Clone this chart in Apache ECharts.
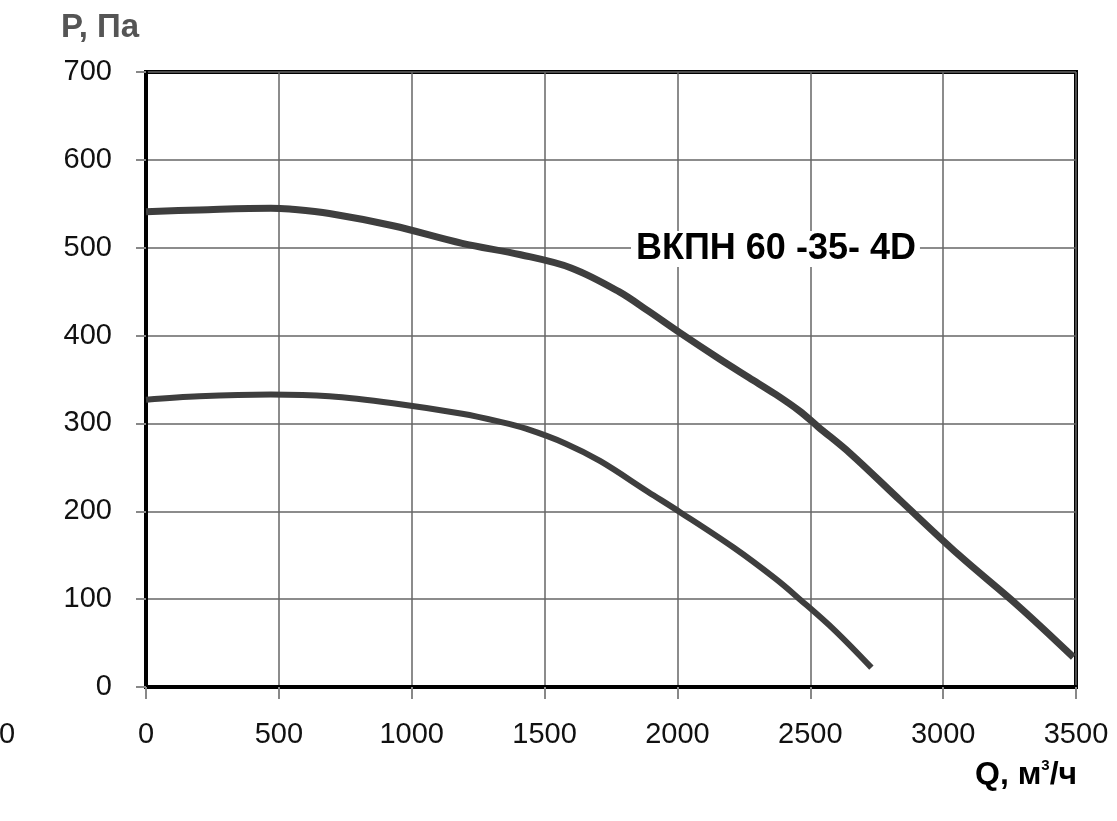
<!DOCTYPE html>
<html>
<head>
<meta charset="utf-8">
<script src="https://cdn.jsdelivr.net/npm/echarts@6/dist/echarts.min.js"></script>
<style>
html,body{margin:0;padding:0;background:#fff;}
#chart{width:1117px;height:821px;}
</style>
</head>
<body>
<div id="chart"></div>
<script>
// Q values (м³/ч) and P values (Па)
var upperQ = [0, 200, 470, 540, 690, 930, 1190, 1410, 1600, 1780, 1890, 2010, 2160, 2270, 2370, 2460, 2530, 2650, 2840, 3060, 3280, 3490];
var upperP = [541, 543, 545, 544, 539, 525, 505, 492, 477, 450, 428, 403, 373, 352, 333, 314, 296, 266, 212, 150, 93, 34];
var lowerQ = [0, 200, 470, 690, 930, 1190, 1330, 1430, 1580, 1710, 1890, 2010, 2210, 2370, 2460, 2590, 2730];
var lowerP = [327, 331, 333, 331, 323, 311, 302, 294, 277, 257, 222, 199, 159, 123, 100, 65, 22];
var curveLabel = 'ВКПН 60 -35- 4D';
var yTitle = 'P, Па';

function pairs(xs, ys){ return xs.map(function(x,i){ return [x, ys[i]]; }); }

var FF = 'Liberation Sans, Arial, sans-serif';
var chart = echarts.init(document.getElementById('chart'));
var labelFont = {fontFamily:FF, fontSize:29, color:'#111', formatter:function(v){ return String(v); }};
chart.setOption({
  backgroundColor:'#fff',
  animation:false,
  grid:{left:146, top:72, right:41, bottom:134, show:true, borderColor:'#000', borderWidth:4, backgroundColor:'transparent'},
  xAxis:{
    type:'value', min:0, max:3500, interval:500,
    axisLine:{show:true, onZero:false, lineStyle:{color:'#000', width:4}},
    axisTick:{show:true, length:12, lineStyle:{color:'#888', width:2}},
    axisLabel:Object.assign({margin:33}, labelFont),
    splitLine:{show:true, lineStyle:{color:'#666', width:1.5}}
  },
  yAxis:{
    type:'value', min:0, max:700, interval:100,
    axisLine:{show:true, lineStyle:{color:'#000', width:4}},
    axisTick:{show:true, length:10, lineStyle:{color:'#888', width:2}},
    axisLabel:Object.assign({margin:34}, labelFont),
    splitLine:{show:true, lineStyle:{color:'#666', width:1.5}}
  },
  series:[
    {type:'line', data:pairs(upperQ, upperP), smooth:0.35, symbol:'none',
     lineStyle:{color:'#3e3e3e', width:7, cap:'butt'}, z:3},
    {type:'line', data:pairs(lowerQ, lowerP), smooth:0.35, symbol:'none',
     lineStyle:{color:'#3e3e3e', width:6, cap:'butt'}, z:3}
  ],
  graphic:[
    {type:'text', left:61, top:11, z:10, style:{text:yTitle, fontFamily:FF, fontWeight:'bold', fontSize:33, fill:'#555'}},
    {type:'text', left:631, top:231, z:10, style:{text:curveLabel, fontFamily:FF, fontWeight:'bold', fontSize:36, fill:'#000', backgroundColor:'#fff', padding:[0,4,0,5]}},
    {type:'text', left:975, top:758, z:10, style:{
      text:'{a|Q, м}{s|3}{a|/ч}',
      rich:{
        a:{fontFamily:FF, fontWeight:'bold', fontSize:32, color:'#555', verticalAlign:'bottom'},
        s:{fontFamily:FF, fontWeight:'bold', fontSize:15, color:'#555', verticalAlign:'top', padding:[0,0,18,0]}
      }}},
    {type:'text', left:-1, top:720, z:10, style:{text:'0', fontFamily:FF, fontSize:29, fill:'#111'}}
  ]
});
</script>
</body>
</html>
